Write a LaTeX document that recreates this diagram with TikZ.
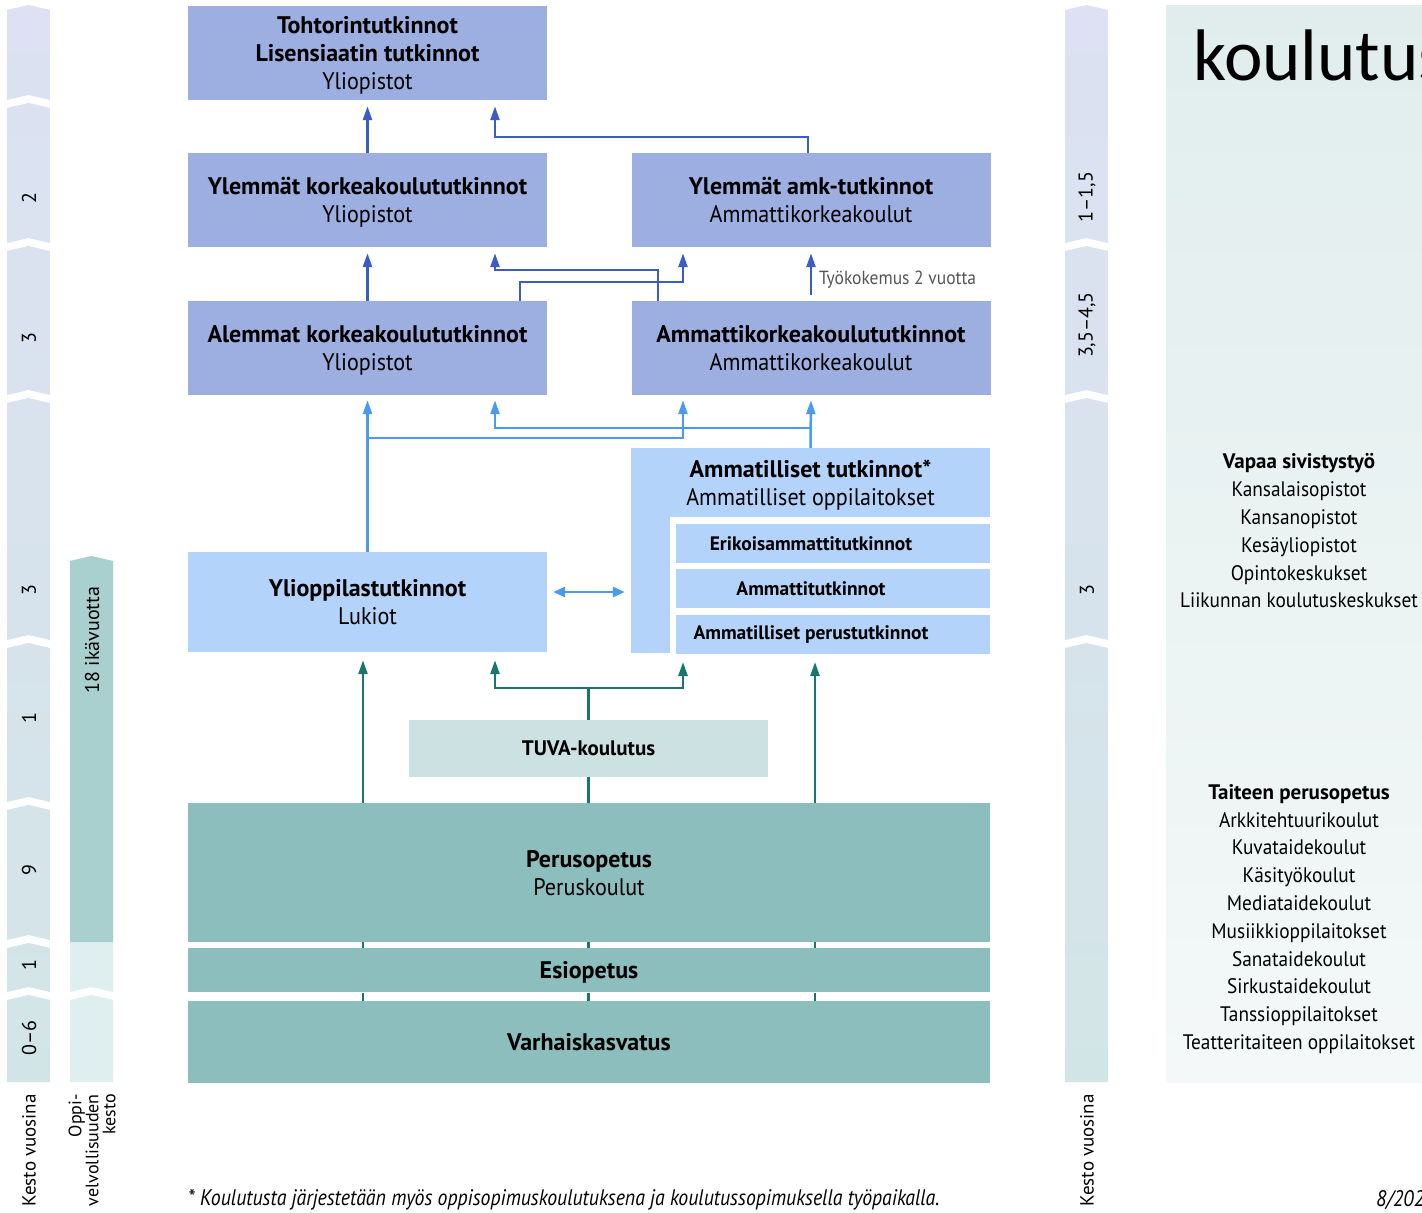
\documentclass[tikz,border=0pt]{standalone}
\usepackage{fontspec}
\setmainfont{PT Sans}[UprightFeatures={FakeStretch=0.92}, ItalicFeatures={FakeStretch=0.88}]
\newfontfamily\plainfont{PT Sans}
\newfontfamily\titlefont{Carlito}
\usepackage{xcolor}
\usepackage{tikz}
\usetikzlibrary{shapes, arrows.meta, positioning}

\definecolor{uniblue}{HTML}{9DAEE0}
\definecolor{lightblue}{HTML}{B4D3FB}
\definecolor{tealbox}{HTML}{8CBEBE}
\definecolor{tuvabox}{HTML}{CCE2E2}
\definecolor{darkline}{HTML}{3B5CC4}
\definecolor{lightline}{HTML}{4A9BF0}
\definecolor{tealline}{HTML}{17766E}
\definecolor{striptop}{HTML}{DDE1F3}
\definecolor{stripbot}{HTML}{D2E5E6}
\definecolor{oppidark}{HTML}{A9CFCF}
\definecolor{oppilight}{HTML}{DFEEEE}
\definecolor{paneltop}{HTML}{E1EDED}
\definecolor{panelbot}{HTML}{F4F8F8}
\definecolor{notegray}{HTML}{555555}

\newcommand\mainsz{\fontsize{24}{28}\selectfont}
\newcommand\subsz{\fontsize{19.5}{24}\selectfont}
\newcommand\panelsz{\fontsize{21}{27.8}\selectfont}
\newcommand\notesz{\fontsize{22.5}{26}\selectfont}
\newcommand\stripsz{\fontsize{20}{24}\selectfont}

\begin{document}
\begin{tikzpicture}[x=1pt, y=-1pt, font=\mainsz]
\tikzstyle{unibox} = [rectangle, fill=uniblue, minimum width=359pt, minimum height=94pt, inner sep=0pt, text depth=0pt, align=center]
\tikzstyle{secbox} = [rectangle, fill=lightblue, inner sep=0pt, text depth=0pt, align=center]
\tikzstyle{subbox} = [rectangle, fill=lightblue, minimum width=314pt, minimum height=39pt, inner sep=0pt, font=\subsz\bfseries]
\tikzstyle{basebox} = [rectangle, fill=tealbox, minimum width=802pt, inner sep=0pt, text depth=0pt, align=center]
\tikzstyle{paneltext} = [align=center, font=\panelsz, inner sep=0pt]
\tikzstyle{striplabel} = [rotate=90, font=\plainfont\stripsz, inner sep=0pt]
\tikzstyle{arrowdb} = [line width=2.5pt, draw=darkline, ->, >={Triangle[length=14pt, width=9pt]}, shorten >=6pt]
\tikzstyle{arrowlb} = [line width=2.5pt, draw=lightline, ->, >={Triangle[length=14pt, width=9pt]}, shorten >=5pt]
\tikzstyle{twoway} = [line width=2.5pt, draw=lightline, <->, >={Triangle[length=12pt, width=10pt]}, shorten >=6pt, shorten <=6pt]
\tikzstyle{arrowteal} = [line width=2.5pt, draw=tealline, ->, >={Triangle[length=14pt, width=9pt]}, shorten >=8pt]
\tikzstyle{tealplain} = [line width=2.5pt, draw=tealline]

\useasboundingbox (0,0) rectangle (1422,1213);
\fill [white] (0,0) rectangle (1422,1213);

\begin{scope}
\clip (7,10) -- (28.5,5) -- (50,10) -- (50,100) -- (28.5,95) -- (7,100) -- cycle
  (7,108) -- (28.5,103) -- (50,108) -- (50,243) -- (28.5,238) -- (7,243) -- cycle
  (7,251) -- (28.5,246) -- (50,251) -- (50,395) -- (28.5,390) -- (7,395) -- cycle
  (7,403) -- (28.5,398) -- (50,403) -- (50,640) -- (28.5,635) -- (7,640) -- cycle
  (7,648) -- (28.5,643) -- (50,648) -- (50,802) -- (28.5,797) -- (7,802) -- cycle
  (7,810) -- (28.5,805) -- (50,810) -- (50,940) -- (28.5,935) -- (7,940) -- cycle
  (7,948) -- (28.5,943) -- (50,948) -- (50,992) -- (28.5,987) -- (7,992) -- cycle
  (7,1000) -- (28.5,995) -- (50,1000) -- (50,1082) -- (7,1082) -- cycle;
\shade [top color=striptop, bottom color=stripbot] (7,0) rectangle (50,1090);
\end{scope}
\begin{scope}
\clip (1065,10) -- (1086.5,5) -- (1108,10) -- (1108,243) -- (1086.5,238) -- (1065,243) -- cycle
  (1065,251) -- (1086.5,246) -- (1108,251) -- (1108,395) -- (1086.5,390) -- (1065,395) -- cycle
  (1065,403) -- (1086.5,398) -- (1108,403) -- (1108,640) -- (1086.5,635) -- (1065,640) -- cycle
  (1065,648) -- (1086.5,643) -- (1108,648) -- (1108,1082) -- (1065,1082) -- cycle;
\shade [top color=striptop, bottom color=stripbot] (1065,0) rectangle (1108,1090);
\end{scope}
\fill [oppilight] (70,561) -- (91.5,556) -- (113,561) -- (113,992) -- (91.5,987) -- (70,992) -- cycle;
\fill [oppilight] (70,1000) -- (91.5,995) -- (113,1000) -- (113,1082) -- (70,1082) -- cycle;
\fill [oppidark] (70,561) -- (91.5,556) -- (113,561) -- (113,942) -- (70,942) -- cycle;
\shade [top color=paneltop, bottom color=panelbot] (1166,5) rectangle (1430,1082);

\node (vl2) [striplabel] at (29,198) {2};
\node (vl3a) [striplabel] at (29,338) {3};
\node (vl3b) [striplabel] at (29,590) {3};
\node (vl1a) [striplabel] at (29,718) {1};
\node (vl9) [striplabel] at (29,870) {9};
\node (vl1b) [striplabel] at (29,965) {1};
\node (vl06) [striplabel] at (29,1038) {0–6};
\node (kestoL) [striplabel, anchor=east, font=\plainfont\fontsize{19}{22}\selectfont] at (29,1094) {Kesto vuosina};
\node (oppi18) [striplabel, font=\plainfont\fontsize{20}{24}\selectfont] at (92,640) {18 ikävuotta};
\node (oppiL) [striplabel, anchor=east, align=right, font=\plainfont\fontsize{18}{17}\selectfont] at (92,1094) {Oppi-\\velvollisuuden\\kesto};
\node (vr1) [striplabel] at (1087,197) {1–1,5};
\node (vr2) [striplabel] at (1087,325) {3,5–4,5};
\node (vr3) [striplabel] at (1087,590) {3};
\node (kestoR) [striplabel, anchor=east, font=\plainfont\fontsize{19}{22}\selectfont] at (1087,1094) {Kesto vuosina};

\node (tohtori) [unibox] at (367.5,53) {\textbf{Tohtorintutkinnot}\\\textbf{Lisensiaatin tutkinnot}\\Yliopistot};
\node (ylkk) [unibox] at (367.5,200) {\textbf{Ylemmät korkeakoulututkinnot}\\Yliopistot};
\node (ylamk) [unibox] at (811,200) {\textbf{Ylemmät amk-tutkinnot}\\Ammattikorkeakoulut};
\node (alkk) [unibox] at (367.5,348) {\textbf{Alemmat korkeakoulututkinnot}\\Yliopistot};
\node (amk) [unibox] at (811,348) {\textbf{Ammattikorkeakoulututkinnot}\\Ammattikorkeakoulut};
\node (ammtop) [secbox, minimum width=359pt, minimum height=69pt] at (810.5,482.5) {\textbf{Ammatilliset tutkinnot*}\\Ammatilliset oppilaitokset};
\node (ammside) [secbox, minimum width=39pt, minimum height=136pt, below right=-0.5pt and 0pt of ammtop.south west] {};
\node (erikois) [subbox] at (833,543.5) {\hspace*{-44pt}Erikoisammattitutkinnot};
\node (ammatti) [subbox, below=6pt of erikois] {\hspace*{-44pt}Ammattitutkinnot};
\node (perustk) [subbox, below=6pt of ammatti] {\hspace*{-44pt}Ammatilliset perustutkinnot};
\node (ylioppi) [secbox, minimum width=359pt, minimum height=100pt] at (367.5,602) {\textbf{Ylioppilastutkinnot}\\Lukiot};
\node (tuva) [rectangle, fill=tuvabox, minimum width=359pt, minimum height=57pt, font=\fontsize{21}{26}\selectfont\bfseries] at (588.5,748.5) {TUVA-koulutus};
\node (perus) [basebox, minimum height=139pt] at (589,872.5) {\textbf{Perusopetus}\\Peruskoulut};
\node (esi) [basebox, minimum height=44pt, below=6pt of perus] {\textbf{Esiopetus}};
\node (varh) [basebox, minimum height=82pt, below=8pt of esi] {\textbf{Varhaiskasvatus}};

\node (tyo) [anchor=west, font=\fontsize{19}{22}\selectfont, text=notegray, inner sep=0pt] at (819,280) {Työkokemus 2 vuotta};
\node (vapaa) [paneltext] at (1299,531) {\textbf{Vapaa sivistystyö}\\Kansalaisopistot\\Kansanopistot\\Kesäyliopistot\\Opintokeskukset\\Liikunnan koulutuskeskukset};
\node (taide) [paneltext] at (1299,919) {\textbf{Taiteen perusopetus}\\Arkkitehtuurikoulut\\Kuvataidekoulut\\Käsityökoulut\\Mediataidekoulut\\Musiikkioppilaitokset\\Sanataidekoulut\\Sirkustaidekoulut\\Tanssioppilaitokset\\Teatteritaiteen oppilaitokset};
\node (otsikko) [anchor=base west, font=\titlefont\fontsize{73}{78}\selectfont, inner sep=0pt] at (1193,80) {koulutus};
\node (huom) [anchor=west, font=\notesz\itshape, inner sep=0pt] at (188,1200) {* Koulutusta järjestetään myös oppisopimuskoulutuksena ja koulutussopimuksella työpaikalla.};
\node (pvm) [anchor=west, font=\notesz\itshape, inner sep=0pt] at (1376,1200) {8/202};

\coordinate (d1) at (808,137);
\coordinate (d2) at (495,137);
\coordinate (a1) at (658,270);
\coordinate (a2) at (495,270);
\coordinate (b1) at (520,282);
\coordinate (b2) at (683,282);
\coordinate (l1) at (683,438);
\coordinate (l2) at (495,428);
\coordinate (kaksi) at (590,592);
\coordinate (t1) at (363,688);
\coordinate (t2) at (495,688);
\coordinate (t3) at (588.5,688);
\coordinate (t4) at (683,688);
\coordinate (t5) at (815,688);

\draw [arrowdb] (ylkk.north) -- (tohtori.south);
\draw [arrowdb] (ylamk.north -| d1) -- (d1) -- (d2) -- (d2 |- tohtori.south);
\draw [arrowdb] (alkk.north) -- (ylkk.south);
\draw [arrowdb] (amk.north -| a1) -- (a1) -- (a2) -- (a2 |- ylkk.south);
\draw [arrowdb] (alkk.north -| b1) -- (b1) -- (b2) -- (b2 |- ylamk.south);
\draw [arrowdb, shorten <=6pt] (amk.north) -- (ylamk.south);

\draw [arrowlb] (ylioppi.north) -- (alkk.south);
\draw [arrowlb] (ylioppi.north |- l1) -- (l1) -- (l1 |- amk.south);
\draw [arrowlb] (ammtop.north) -- (amk.south);
\draw [arrowlb] (ammtop.north |- l2) -- (l2) -- (l2 |- alkk.south);
\draw [twoway] (ylioppi.east |- kaksi) -- (ammside.west |- kaksi);

\draw [arrowteal] (perus.north -| t1) -- (t1 |- ylioppi.south);
\draw [tealplain] (perus.north -| tuva.south) -- (tuva.south);
\draw [arrowteal] (tuva.north) -- (t3) -- (t2) -- (t2 |- ylioppi.south);
\draw [arrowteal] (t3) -- (t4) -- (t4 |- perustk.south);
\draw [arrowteal] (perus.north -| t5) -- (t5 |- perustk.south);
\draw [tealplain] (perus.south -| t1) -- (esi.north -| t1);
\draw [tealplain] (perus.south -| t3) -- (esi.north -| t3);
\draw [tealplain] (perus.south -| t5) -- (esi.north -| t5);
\draw [tealplain] (esi.south -| t1) -- (varh.north -| t1);
\draw [tealplain] (esi.south -| t3) -- (varh.north -| t3);
\draw [tealplain] (esi.south -| t5) -- (varh.north -| t5);

\end{tikzpicture}
\end{document}
